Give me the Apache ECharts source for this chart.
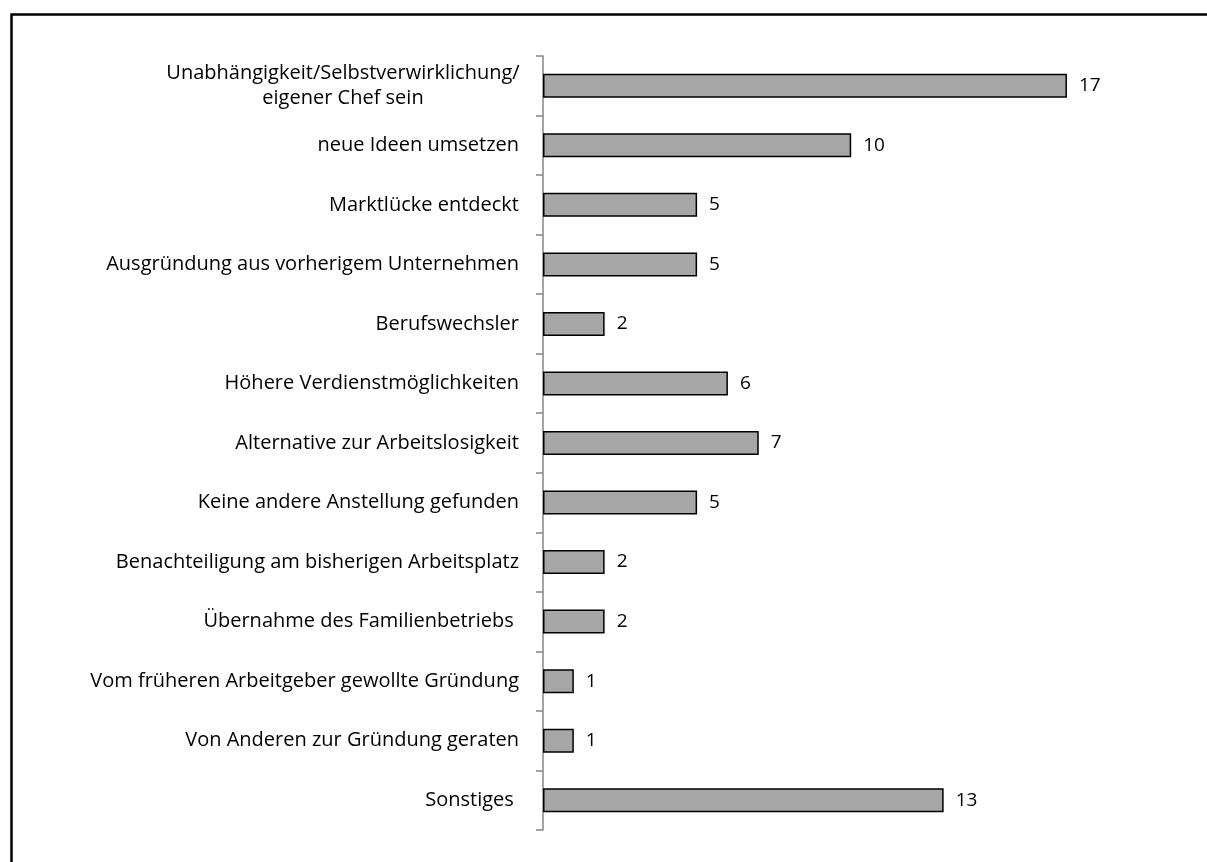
<!doctype html>
<html>
 <head>
  <meta charset="UTF-8">
  <script src="https://cdn.jsdelivr.net/npm/echarts@6/dist/echarts.min.js"></script>
  <title>Gründungsmotive</title>
  <style>
   html, body { margin: 0; padding: 0; background: #fff; }
   #chart { width: 1207px; height: 862px; }
  </style>
 </head>
 <body>
  <div id="chart"></div>
  <script type="text/javascript">
    var categories = [
      'Unabhängigkeit/Selbstverwirklichung/\neigener Chef sein',
      'neue Ideen umsetzen',
      'Marktlücke entdeckt',
      'Ausgründung aus vorherigem Unternehmen',
      'Berufswechsler',
      'Höhere Verdienstmöglichkeiten',
      'Alternative zur Arbeitslosigkeit',
      'Keine andere Anstellung gefunden',
      'Benachteiligung am bisherigen Arbeitsplatz',
      'Übernahme des Familienbetriebs ',
      'Vom früheren Arbeitgeber gewollte Gründung',
      'Von Anderen zur Gründung geraten',
      'Sonstiges '
    ];
    var counts = [17, 10, 5, 5, 2, 6, 7, 5, 2, 2, 1, 1, 13];

    var font = '"Open Sans", "Liberation Sans", sans-serif';
    var fs = 20;
    var myChart = echarts.init(document.getElementById('chart'));
    myChart.setOption({
      animation: false,
      graphic: [{
        type: 'rect',
        left: 9, top: 12,
        shape: { width: 1220, height: 880 },
        style: { fill: 'none', stroke: '#000', lineWidth: 2.5 },
        silent: true
      }],
      grid: { left: 543, top: 56, width: 616.4, height: 774 },
      xAxis: {
        type: 'value', min: 0, max: 20, show: false
      },
      yAxis: {
        type: 'category',
        inverse: true,
        data: categories,
        axisLine: { show: true, lineStyle: { color: '#868686', width: 1.5 } },
        axisTick: { show: true, length: 7, lineStyle: { color: '#868686', width: 1.5 } },
        axisLabel: {
          margin: 24, color: '#000', fontSize: fs, fontFamily: font,
          lineHeight: 25,
          formatter: function (v) {
            return v.indexOf('\n') >= 0 ? '{c|' + v + '}' : v;
          },
          rich: {
            c: { width: 352, align: 'center', fontSize: fs, lineHeight: 25, fontFamily: font, color: '#000' }
          }
        }
      },
      series: [{
        type: 'bar',
        data: counts,
        barWidth: 24,
        itemStyle: { color: '#a6a6a6', borderColor: '#000', borderWidth: 1.5 },
        label: {
          show: true, position: 'right', distance: 12,
          color: '#000', fontSize: 19, fontFamily: font
        }
      }]
    });
  </script>
 </body>
</html>
